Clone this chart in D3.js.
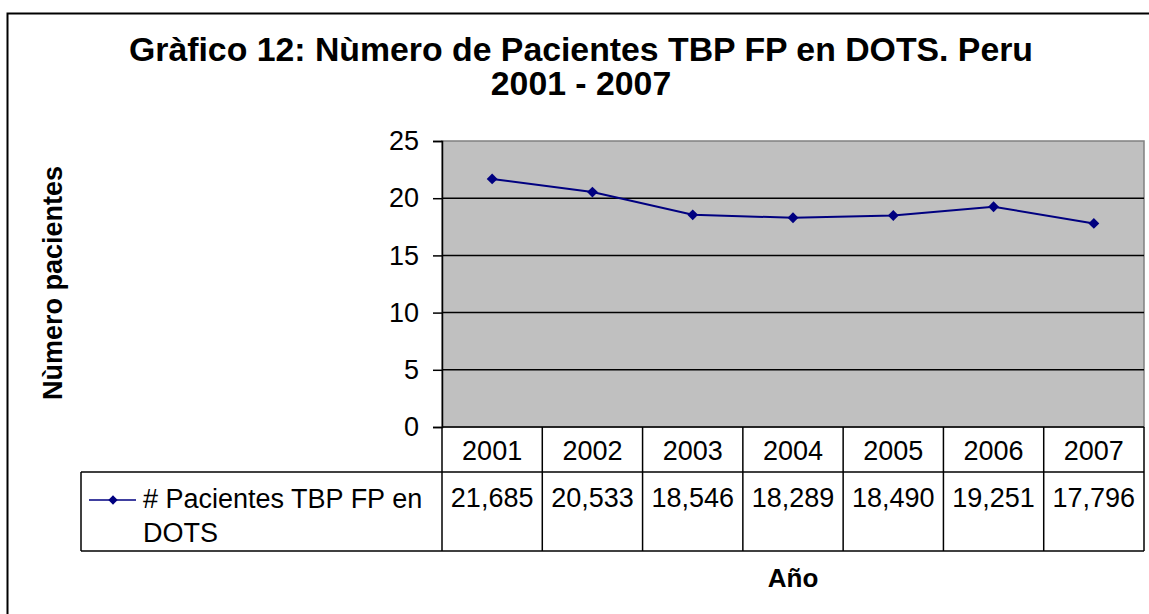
<!DOCTYPE html>
<html>
<head>
<meta charset="utf-8">
<script src="https://cdn.jsdelivr.net/npm/d3@7"></script>
<style>
  body { margin: 0; background: #fff; }
  svg text { font-family: "Liberation Sans", Arial, sans-serif; fill: #000; }
</style>
</head>
<body>
<svg id="chart" width="1149" height="614"></svg>
<script>
var years = ["2001", "2002", "2003", "2004", "2005", "2006", "2007"];
var pacientes = [21685, 20533, 18546, 18289, 18490, 19251, 17796];
var yTicks = [0, 5, 10, 15, 20, 25];
var seriesName = ["# Pacientes TBP FP en", "DOTS"];
var titleLines = ["Gràfico 12: Nùmero de Pacientes TBP FP en DOTS. Peru", "2001 - 2007"];

var svg = d3.select('#chart');

// plot area bounds
var plotLeft = 442, plotRight = 1144, plotTop = 141, plotBottom = 427;
var rowH = 472, rowEnd = 551, legendLeft = 81;

var x = d3.scaleBand().domain(years).range([plotLeft, plotRight]);
var y = d3.scaleLinear().domain([0, 25]).range([plotBottom, plotTop]);

// outer chart border (runs off the right and bottom of the picture)
svg.append('rect')
    .attr('x', 7.5).attr('y', 13.5)
    .attr('width', 1160).attr('height', 640)
    .attr('fill', 'none').attr('stroke', '#000').attr('stroke-width', 2);

// title, two lines in one text
var title = svg.append('text')
    .attr('class', 'title')
    .attr('text-anchor', 'middle')
    .style('font-size', '33.8px').style('font-weight', 'bold');
title.selectAll('tspan').data(titleLines).enter()
    .append('tspan')
    .attr('x', 581)
    .attr('y', function(d, i) { return 61 + i * 34; })
    .text(function(d) { return d; });

// plot background
svg.append('rect')
    .attr('x', plotLeft).attr('y', plotTop)
    .attr('width', plotRight - plotLeft).attr('height', plotBottom - plotTop)
    .attr('fill', '#c0c0c0').attr('stroke', '#808080').attr('stroke-width', 1.5);

// gridlines
svg.selectAll('.grid').data(yTicks.filter(function(t) { return t > 0 && t < 25; })).enter()
    .append('line')
    .attr('x1', plotLeft).attr('x2', plotRight)
    .attr('y1', function(d) { return y(d); }).attr('y2', function(d) { return y(d); })
    .attr('stroke', '#000').attr('stroke-width', 1.5);

// y axis
var yAxis = svg.append('g')
    .attr('transform', 'translate(' + plotLeft + ',0)')
    .call(d3.axisLeft(y).tickValues(yTicks).tickSize(9).tickPadding(14));
yAxis.select('.domain').attr('stroke', '#000').attr('stroke-width', 1.5);
yAxis.selectAll('.tick line').attr('stroke', '#000').attr('stroke-width', 1.5);
yAxis.selectAll('.tick text')
    .style('font-size', '27px').style('font-family', '"Liberation Sans", Arial, sans-serif')
    .attr('fill', '#000');

svg.append('text')
    .attr('transform', 'translate(62,283) rotate(-90)')
    .attr('text-anchor', 'middle')
    .style('font-size', '27px').style('font-weight', 'bold')
    .text('Nùmero pacientes');

// series line
var line = d3.line()
    .x(function(d, i) { return x(years[i]) + x.bandwidth() / 2; })
    .y(function(d) { return y(d / 1000); });

svg.append('path')
    .datum(pacientes)
    .attr('d', line)
    .attr('fill', 'none').attr('stroke', '#000080').attr('stroke-width', 2);

var diamond = d3.symbol().type(d3.symbolDiamond2).size(75);
svg.selectAll('.pt').data(pacientes).enter()
    .append('path')
    .attr('class', 'pt')
    .attr('d', diamond)
    .attr('transform', function(d, i) {
        return 'translate(' + (x(years[i]) + x.bandwidth() / 2) + ',' + y(d / 1000) + ')';
    })
    .attr('fill', '#000080');

// data table
var table = svg.append('g');
var tStroke = function(sel) { return sel.attr('stroke', '#000').attr('stroke-width', 1.5); };

tStroke(table.append('line').attr('x1', plotLeft).attr('x2', plotRight).attr('y1', plotBottom).attr('y2', plotBottom));
tStroke(table.append('line').attr('x1', legendLeft).attr('x2', plotRight).attr('y1', rowH).attr('y2', rowH));
tStroke(table.append('line').attr('x1', legendLeft).attr('x2', plotRight).attr('y1', rowEnd).attr('y2', rowEnd));
tStroke(table.append('line').attr('x1', legendLeft).attr('x2', legendLeft).attr('y1', rowH).attr('y2', rowEnd));

var edges = years.map(function(yr) { return x(yr); }).concat([plotRight]);
table.selectAll('.vline').data(edges).enter()
    .append('line')
    .attr('x1', function(d) { return d; }).attr('x2', function(d) { return d; })
    .attr('y1', plotBottom).attr('y2', rowEnd)
    .call(tStroke);

table.selectAll('.yr').data(years).enter()
    .append('text')
    .attr('x', function(d) { return x(d) + x.bandwidth() / 2; })
    .attr('y', 460)
    .attr('text-anchor', 'middle')
    .style('font-size', '27px')
    .text(function(d) { return d; });

table.selectAll('.val').data(pacientes).enter()
    .append('text')
    .attr('x', function(d, i) { return x(years[i]) + x.bandwidth() / 2; })
    .attr('y', 507)
    .attr('text-anchor', 'middle')
    .style('font-size', '27px')
    .text(function(d) { return d3.format(',')(d); });

// legend key in the table
table.append('line')
    .attr('x1', 89).attr('x2', 136).attr('y1', 500).attr('y2', 500)
    .attr('stroke', '#000080').attr('stroke-width', 1.5);
table.append('path')
    .attr('d', d3.symbol().type(d3.symbolDiamond2).size(55))
    .attr('transform', 'translate(113,500)')
    .attr('fill', '#000080');
table.selectAll('.lg').data(seriesName).enter()
    .append('text')
    .attr('x', 143)
    .attr('y', function(d, i) { return 508 + i * 34; })
    .style('font-size', '27px')
    .text(function(d) { return d; });

// x axis title
svg.append('text')
    .attr('x', (plotLeft + plotRight) / 2).attr('y', 587)
    .attr('text-anchor', 'middle')
    .style('font-size', '26px').style('font-weight', 'bold')
    .text('Año');
</script>
</body>
</html>
